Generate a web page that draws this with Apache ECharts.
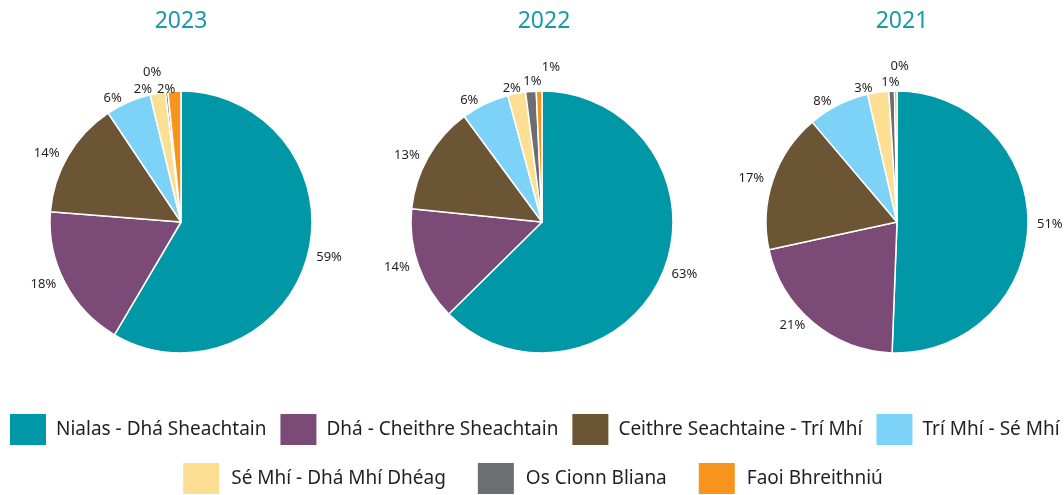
<!DOCTYPE html>
<html>
<head>
<meta charset="utf-8">
<script src="https://cdn.jsdelivr.net/npm/echarts@6/dist/echarts.min.js"></script>
<style>
html,body{margin:0;padding:0;background:#fff;}
#c{width:1064px;height:495px;}
</style>
</head>
<body>
<div id="c"></div>
<script>
const categories = [
  'Nialas - Dhá Sheachtain',
  'Dhá - Cheithre Sheachtain',
  'Ceithre Seachtaine - Trí Mhí',
  'Trí Mhí - Sé Mhí',
  'Sé Mhí - Dhá Mhí Dhéag',
  'Os Cionn Bliana',
  'Faoi Bhreithniú'
];
const years = ['2023', '2022', '2021'];
const values2023 = [58.6, 17.8, 14.4, 5.6, 1.9, 0.3, 1.6];
const values2022 = [62.6, 14.0, 13.3, 5.9, 2.2, 1.3, 0.7];
const values2021 = [50.6, 21.0, 17.2, 7.6, 2.6, 0.7, 0.3];
const colors = ['#0097a7', '#7b4a76', '#6b5534', '#7dd3f7', '#fddf94', '#6d6e71', '#f7941d'];

const valuesByYear = [values2023, values2022, values2021];
const centersX = [181, 542, 897];
const titleX = [176, 539, 897];

// label nudges for crowded tiny slices: [seriesIndex][dataIndex] -> [dx, dy]
const labelNudges = {
  0: { 5: [0, -16], 6: [6, 2] },
  1: { 4: [10, -1], 5: [16, -6], 6: [26, -20] },
  2: { 5: [13, -5], 6: [18, -21] }
};

const chart = echarts.init(document.getElementById('c'));
const font = 'Noto Sans';

const series = valuesByYear.map((vals, i) => ({
  type: 'pie',
  center: [centersX[i], 222],
  radius: [0, 131],
  startAngle: 90,
  clockwise: true,
  avoidLabelOverlap: false,
  itemStyle: { borderColor: '#fff', borderWidth: 1.5 },
  label: {
    show: true,
    position: 'outside',
    formatter: p => Math.round(p.value) + '%',
    color: '#231f20',
    fontFamily: font,
    fontSize: 13,
    overflow: 'none'
  },
  labelLine: { show: false, length: 4, length2: 0 },
  labelLayout: function (p) {
    const n = labelNudges[p.seriesIndex] && labelNudges[p.seriesIndex][p.dataIndex];
    return n ? { dx: n[0], dy: n[1] } : {};
  },
  emphasis: { disabled: true },
  data: categories.map((n, k) => ({ name: n, value: vals[k] }))
}));

const legendText = { fontFamily: font, fontSize: 19, color: '#231f20', padding: [0, 0, 0, 4] };

chart.setOption({
  animation: false,
  color: colors,
  title: years.map((y, i) => ({
    text: y,
    left: titleX[i],
    top: 5,
    textAlign: 'center',
    textStyle: { color: '#1a9aa8', fontFamily: font, fontSize: 23, fontWeight: 'normal' }
  })),
  legend: [
    {
      data: categories.slice(0, 4),
      left: 8,
      width: 1056,
      top: 412,
      padding: 0,
      itemWidth: 38,
      itemHeight: 33,
      itemGap: 12,
      icon: 'rect',
      selectedMode: false,
      textStyle: legendText
    },
    {
      data: categories.slice(4),
      left: 'center',
      top: 461,
      padding: 0,
      itemWidth: 38,
      itemHeight: 33,
      itemGap: 30,
      icon: 'rect',
      selectedMode: false,
      textStyle: Object.assign({}, legendText, { padding: [0, 0, 0, 6] })
    }
  ],
  series: series
});
</script>
</body>
</html>
